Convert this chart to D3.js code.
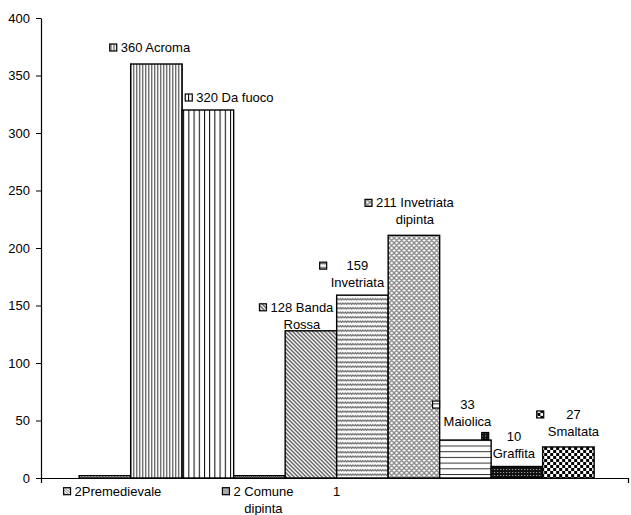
<!DOCTYPE html>
<html>
<head>
<meta charset="utf-8">
<script src="https://cdn.jsdelivr.net/npm/d3@7"></script>
<style>
  body { margin: 0; background: #fff; }
  text { font-family: Arial, "Liberation Sans", sans-serif; }
</style>
</head>
<body>
<div id="chart"></div>
<script>
// Data
const categories = ["1"];
const seriesNames = ["Premedievale", "Acroma", "Da fuoco", "Comune dipinta", "Banda Rossa",
  "Invetriata", "Invetriata dipinta", "Maiolica", "Graffita", "Smaltata"];
const seriesValues = [2, 360, 320, 2, 128, 159, 211, 33, 10, 27];
const labelLines = [
  ["2Premedievale"], ["360 Acroma"], ["320 Da fuoco"], ["2 Comune", "dipinta"],
  ["128 Banda", "Rossa"], ["159", "Invetriata"], ["211 Invetriata", "dipinta"],
  ["33", "Maiolica"], ["10", "Graffita"], ["27", "Smaltata"]
];
const yTicks = [0, 50, 100, 150, 200, 250, 300, 350, 400];

// label placement: offset of the label block centre from the bar's top centre
const labelOffsets = [
  { dx: 13, dy: 20 }, { dx: -1, dy: -12 }, { dx: 27, dy: -8 }, { dx: 4, dy: 20 },
  { dx: -9, dy: -19 }, { dx: -5, dy: -25 }, { dx: 1, dy: -28 },
  { dx: 2, dy: -31 }, { dx: -3, dy: -26 }, { dx: 5, dy: -28 }
];

const fullWidth = 631;
const fullHeight = 515;
const margin = { top: 18, right: 3, bottom: 37, left: 41 };
const width = fullWidth - margin.left - margin.right;
const height = fullHeight - margin.top - margin.bottom;

const root = d3.select("#chart")
  .append("svg")
  .attr("width", fullWidth)
  .attr("height", fullHeight);

// Patterns
const defs = root.append("defs");

function pattern(id, w, h, draw) {
  const p = defs.append("pattern")
    .attr("id", id)
    .attr("patternUnits", "userSpaceOnUse")
    .attr("width", w)
    .attr("height", h);
  p.append("rect").attr("width", w).attr("height", h).attr("fill", "#fff");
  draw(p);
}

pattern("p0", 3, 3, p => {
  p.append("path").attr("d", "M0,0 L3,3").attr("stroke", "#666").attr("stroke-width", 1);
});
pattern("p1", 3, 4, p => {
  p.append("rect").attr("x", 0).attr("width", 1.2).attr("height", 4).attr("fill", "#555");
});
pattern("p2", 5.2, 4, p => {
  p.append("rect").attr("x", 0).attr("width", 1).attr("height", 4).attr("fill", "#000");
});
pattern("p3", 2, 2, p => {
  p.append("rect").attr("width", 1).attr("height", 1).attr("fill", "#555");
  p.append("rect").attr("x", 1).attr("y", 1).attr("width", 1).attr("height", 1).attr("fill", "#555");
});
pattern("p4", 4, 4, p => {
  p.append("path").attr("d", "M-1,3 L1,5 M0,0 L4,4 M3,-1 L5,1")
    .attr("stroke", "#555").attr("stroke-width", 1.3);
});
pattern("p5", 5, 4.5, p => {
  p.append("path").attr("d", "M0,3 L1.25,1.5 L2.5,3 L3.75,1.5 L5,3")
    .attr("stroke", "#555").attr("stroke-width", 1).attr("fill", "none");
});
pattern("p6", 5, 5, p => {
  p.append("path").attr("d", "M0,0 L2.5,2.5 L5,0 M0,5 L2.5,2.5 L5,5")
    .attr("stroke", "#888").attr("stroke-width", 1.3).attr("fill", "none");
});
pattern("p7", 4, 5.7, p => {
  p.append("rect").attr("y", 0).attr("width", 4).attr("height", 1).attr("fill", "#333");
});
pattern("p8", 3, 3, p => {
  p.append("rect").attr("width", 3).attr("height", 3).attr("fill", "#111");
  p.append("rect").attr("x", 1).attr("y", 1).attr("width", 1).attr("height", 1).attr("fill", "#bbb");
});
pattern("p9", 6, 6, p => {
  p.append("rect").attr("width", 3).attr("height", 3).attr("fill", "#000");
  p.append("rect").attr("x", 3).attr("y", 3).attr("width", 3).attr("height", 3).attr("fill", "#000");
});

const svg = root.append("g")
  .attr("transform", `translate(${margin.left},${margin.top})`);

// Scales
const x0 = d3.scaleBand()
  .domain(categories)
  .range([0, width])
  .paddingInner(0.1227)
  .paddingOuter(0.0613)
  .align(0.53);

const x1 = d3.scaleBand()
  .domain(seriesNames)
  .range([0, x0.bandwidth()]);

const yScale = d3.scaleLinear()
  .domain([0, 400])
  .range([height, 0]);

// Bars
const bars = seriesNames.map((name, i) => ({
  name, value: seriesValues[i], i, lines: labelLines[i], off: labelOffsets[i]
}));

const group = svg.append("g")
  .attr("transform", `translate(${x0(categories[0])},0)`);

group.selectAll("rect.bar")
  .data(bars)
  .join("rect")
  .attr("class", "bar")
  .attr("x", d => x1(d.name))
  .attr("y", d => yScale(d.value))
  .attr("width", x1.bandwidth())
  .attr("height", d => height - yScale(d.value))
  .attr("fill", d => `url(#p${d.i})`)
  .attr("stroke", "#000")
  .attr("stroke-width", 1.4);

// Axes
svg.append("g")
  .call(d3.axisLeft(yScale).tickValues(yTicks).tickSize(5).tickSizeOuter(0).tickPadding(6))
  .call(g => g.selectAll("text").style("font-size", "13px").attr("fill", "#000"))
  .call(g => g.select(".domain").attr("stroke-width", 1.2));

svg.append("g")
  .attr("transform", `translate(0,${height})`)
  .call(d3.axisBottom(x0).tickSizeInner(0).tickSizeOuter(5).tickPadding(9))
  .call(g => g.selectAll("text").style("font-size", "13px").attr("fill", "#000"))
  .call(g => g.select(".domain").attr("stroke-width", 1.2));

// Data labels with legend keys
const labels = group.selectAll("g.label")
  .data(bars)
  .join("g")
  .attr("class", "label")
  .attr("transform", d =>
    `translate(${x1(d.name) + x1.bandwidth() / 2 + d.off.dx},${yScale(d.value) + d.off.dy})`);

labels.each(function(d) {
  const g = d3.select(this);
  let maxW = 0;
  d.lines.forEach((line, k) => {
    const t = g.append("text")
      .attr("x", 0)
      .attr("y", k * 17)
      .attr("text-anchor", "middle")
      .style("font-size", "13px")
      .text(line);
    maxW = Math.max(maxW, t.node().getComputedTextLength());
  });
  g.append("rect")
    .attr("x", -maxW / 2 - 11)
    .attr("y", -8)
    .attr("width", 7)
    .attr("height", 7)
    .attr("fill", `url(#p${d.i})`)
    .attr("stroke", "#000")
    .attr("stroke-width", 1.2);
});
</script>
</body>
</html>
